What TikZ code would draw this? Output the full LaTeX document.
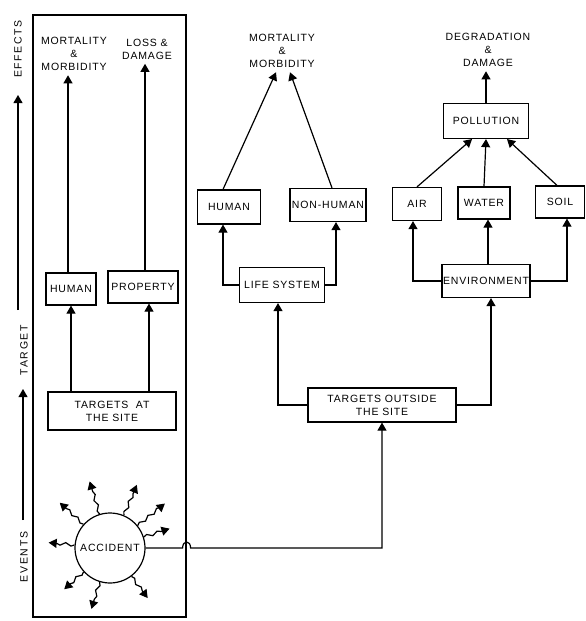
\documentclass[tikz,border=0pt]{standalone}
\usepackage{fontspec}
\setmainfont{Liberation Sans}[LetterSpace=8]
\usetikzlibrary{arrows}
\usetikzlibrary{decorations.pathmorphing}

\begin{document}
\begin{tikzpicture}[x=1pt,y=-1pt,line width=1.2pt,
        blk/.style={draw=black,rectangle,inner sep=1pt,line width=1.2pt,font=\fontsize{10.5}{13}\selectfont,align=center},
        lbl/.style={inner sep=4pt,font=\fontsize{10.5}{13}\selectfont,align=center},
        axis/.style={inner sep=0pt,font=\fontsize{10.5}{13}\selectfont\addfontfeatures{LetterSpace=16},rotate=90},
        burst/.style={-triangle 60,decorate,decoration={snake,amplitude=1.5pt,segment length=11pt,post length=6pt}}
      ]
      \useasboundingbox (0,0) rectangle (586,621);
      % Left column.
      \node[draw,minimum width=153pt,minimum height=602pt,inner sep=0pt] (frame) at (109.5,316) {};
      \node[lbl] (mm1) at (74,54) {MORTALITY\\\&\\MORBIDITY};
      \node[lbl] (ld) at (147,49) {LOSS \&\\DAMAGE};
      \node[blk,minimum width=50pt,minimum height=32pt] (human1) at (71,289) {HUMAN};
      \node[blk,minimum width=70pt,minimum height=32pt] (prop) at (143,287) {PROPERTY};
      \node[blk,minimum width=128pt,minimum height=38pt] (tsite) at (112,411) {TARGETS\ \ AT\\THE SITE};
      \node[draw,circle,minimum size=70pt,inner sep=0pt,font=\fontsize{10.5}{13}\selectfont] (acc) at (110,548) {ACCIDENT};
      % Middle and right.
      \node[blk,minimum width=148pt,minimum height=34pt] (tout) at (382,405) {TARGETS OUTSIDE\\THE SITE};
      \node[blk,minimum width=85pt,minimum height=35pt] (life) at (282,285) {LIFE SYSTEM};
      \node[blk,minimum width=63pt,minimum height=34pt] (human2) at (229,207) {HUMAN};
      \node[blk,minimum width=76pt,minimum height=33pt] (nonh) at (328,205) {NON-HUMAN};
      \node[lbl] (mm2) at (282,51) {MORTALITY\\\&\\MORBIDITY};
      \node[blk,minimum width=88pt,minimum height=33pt] (env) at (486,281) {ENVIRONMENT};
      \node[blk,minimum width=49pt,minimum height=33pt] (air) at (417,204) {AIR};
      \node[blk,minimum width=52pt,minimum height=32pt] (water) at (484,203) {WATER};
      \node[blk,minimum width=49pt,minimum height=32pt] (soil) at (560,202) {SOIL};
      \node[blk,minimum width=85pt,minimum height=35pt] (poll) at (486,121) {POLLUTION};
      \node[lbl] (dd) at (488,50) {DEGRADATION\\\&\\DAMAGE};
      % Axis on the left.
      \node[axis] (effects) at (18,49) {EFFECTS};
      \node[axis] (target) at (24,350) {TARGET};
      \node[axis] (events) at (24,557) {EVENTS};
      \coordinate (ef0) at (18,310);
      \coordinate (ef1) at (18,95);
      \coordinate (ta0) at (23,520);
      \coordinate (ta1) at (23,389);
      \draw[-triangle 60] (ef0) -- (ef1);
      \draw[-triangle 60] (ta0) -- (ta1);
      % Connections.
      \draw[-triangle 60] (tsite.north -| human1) -- (human1.south);
      \draw[-triangle 60] ([xshift=6pt]tsite.north -| prop) -- ([xshift=6pt]prop.south);
      \draw[-triangle 60] ([xshift=-3pt]human1.north) -- ([xshift=-3pt]human1 |- mm1.south);
      \draw[-triangle 60] ([xshift=2pt]prop.north) -- ([xshift=2pt]prop |- ld.south);
      \coordinate (hop) at (frame.east |- acc.east);
      \draw[-triangle 60] (acc.east) -- ([xshift=-4pt]hop) .. controls ([xshift=-4pt,yshift=8pt]hop) and ([xshift=4pt,yshift=8pt]hop) .. ([xshift=4pt]hop) -| (tout.south);
      \draw[-triangle 60] (tout.west) -| ([xshift=-4pt]life.south);
      \draw[-triangle 60] (tout.east) -| ([xshift=5pt]env.south);
      \draw[-triangle 60] (life.west) -| ([xshift=-6pt]human2.south);
      \draw[-triangle 60] (life.east) -| ([xshift=8pt]nonh.south);
      \draw[-triangle 60] ([xshift=-6pt]human2.north) -- ([xshift=-6pt]mm2.south);
      \draw[-triangle 60] ([xshift=4pt]nonh.north) -- ([xshift=8pt]mm2.south);
      \draw[-triangle 60] (env.west) -| ([xshift=-4pt]air.south);
      \draw[-triangle 60] ([xshift=2pt]env.north) -- ([xshift=2pt]env.north |- water.south);
      \draw[-triangle 60] (env.east) -| ([xshift=7pt]soil.south);
      \draw[-triangle 60] (air.north) -- ([xshift=-14pt]poll.south);
      \draw[-triangle 60] (water.north) -- (poll.south);
      \draw[-triangle 60] ([xshift=-3pt]soil.north) -- ([xshift=21pt]poll.south);
      \draw[-triangle 60] (poll.north) -- (poll |- dd.south);
      % Accident bursts.
      \draw[burst] (acc.107) -- ++(107:34pt);
      \draw[burst] (acc.138) -- ++(138:32pt);
      \draw[burst] (acc.67) -- ++(67:33pt);
      \draw[burst] (acc.39) -- ++(39:35pt);
      \draw[burst] (acc.18) -- ++(18:27pt);
      \draw[burst] (acc.175) -- ++(175:26pt);
      \draw[burst] (acc.222) -- ++(222:26pt);
      \draw[burst] (acc.253) -- ++(253:28pt);
      \draw[burst] (acc.307) -- ++(307:27pt);
    \end{tikzpicture}
\end{document}
